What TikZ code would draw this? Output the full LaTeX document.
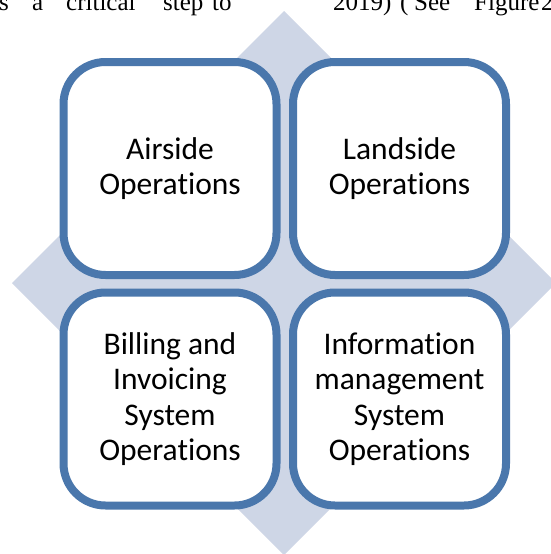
\documentclass[tikz,border=0pt]{standalone}
\usepackage{fontspec}
\setmainfont{Carlito}[Ligatures={NoCommon}]
\newfontfamily\serifpage{Liberation Serif}
\usetikzlibrary{shadows}
\definecolor{boxblue}{RGB}{74,119,172}
\definecolor{diamondfill}{RGB}{206,214,230}
\tikzset{
  opbox/.style={draw=boxblue, line width=8pt, fill=white, rounded corners=42pt,
    minimum width=213pt, minimum height=213pt, align=center, inner sep=0pt,
    font=\fontsize{31.5}{35.5}\selectfont,
    drop shadow={shadow xshift=1pt, shadow yshift=-3pt, opacity=0.18, fill=black}},
  pageword/.style={anchor=base west, inner sep=0pt, font=\serifpage\fontsize{25}{30}\selectfont}
}
\begin{document}
\begin{tikzpicture}[x=1pt,y=-1pt]
\useasboundingbox (0,0) rectangle (550,554);
\fill[white] (0,0) rectangle (550,554);
% page text cut at the top
\node[pageword] (w1) at (-1,10) {s};
\node[pageword] (w2) at (32,10) {a};
\node[pageword] (w3) at (66,10) {critical};
\node[pageword] (w4) at (163,10) {step};
\node[pageword] (w5) at (212,10) {to};
\node[pageword] (w6) at (333,10) {2019)};
\node[pageword] (w7) at (400,10) {(};
\node[pageword] (w8) at (414,10) {See};
\node[pageword] (w9) at (474,10) {Figure};
\node[pageword] (w10) at (541,10) {2};
% diamond
\fill[diamondfill] (284,11) -- (556,283) -- (284,555) -- (12,283) -- cycle;
% boxes
\node[opbox] (air) at (170,168.5) {Airside\\Operations};
\node[opbox] (land) at (399.5,168.5) {Landside\\Operations};
\node[opbox] (bill) at (170,399) {Billing and\\Invoicing\\System\\Operations};
\node[opbox] (info) at (399.5,399) {Information\\management\\System\\Operations};
\end{tikzpicture}
\end{document}
